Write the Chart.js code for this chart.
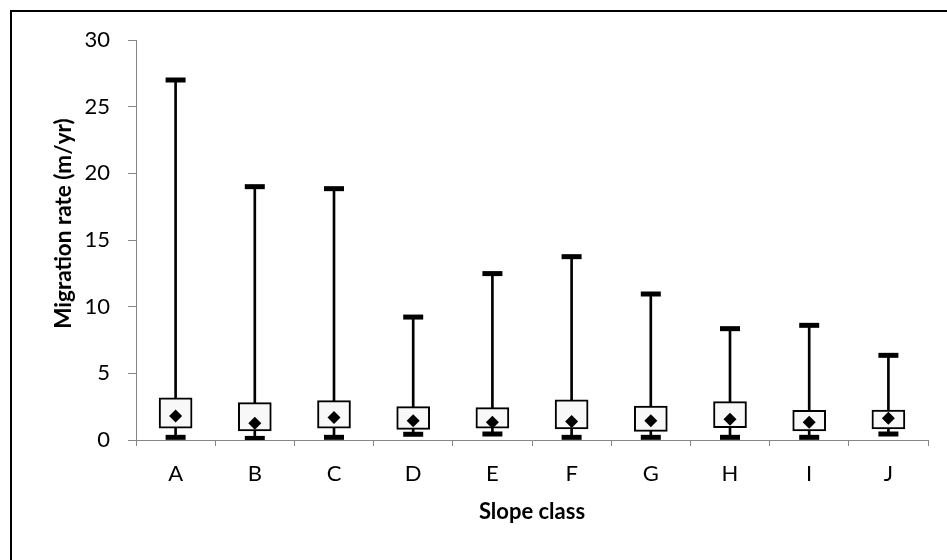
<!DOCTYPE html>
<html>
<head>
<meta charset="utf-8">
<script src="https://cdn.jsdelivr.net/npm/chart.js@4.4.0/dist/chart.umd.min.js"></script>
<style>
  html, body { margin: 0; padding: 0; background: #fff; overflow: hidden; }
  #frame { position: absolute; left: 10px; top: 10px; width: 1000px; height: 600px; border: 2px solid #000; }
  #wrap { position: absolute; left: 0; top: 0; width: 947px; height: 560px; }
</style>
</head>
<body>
<div id="frame"></div>
<div id="wrap"><canvas id="chart" width="947" height="560"></canvas></div>
<script>
// Datos
const categories = ['A', 'B', 'C', 'D', 'E', 'F', 'G', 'H', 'I', 'J'];
const maxValues = [27.0, 19.0, 18.85, 9.22, 12.48, 13.75, 10.95, 8.35, 8.6, 6.35];
const q3Values = [3.17, 2.8, 2.95, 2.5, 2.43, 3.02, 2.55, 2.88, 2.23, 2.25];
const meanValues = [1.8, 1.25, 1.68, 1.45, 1.33, 1.38, 1.45, 1.55, 1.33, 1.63];
const q1Values = [0.88, 0.68, 0.88, 0.8, 0.88, 0.83, 0.65, 0.93, 0.68, 0.83];
const minValues = [0.2, 0.12, 0.2, 0.43, 0.45, 0.2, 0.2, 0.2, 0.2, 0.45];
const yTicks = [0, 5, 10, 15, 20, 25, 30];

const axisColor = '#868686';
const fontFamily = 'Lato, "Open Sans", sans-serif';

const ctx = document.getElementById('chart').getContext('2d');
new Chart(ctx, {
    type: 'bar',
    data: {
        labels: categories,
        datasets: [
            {
                // Media
                type: 'line',
                data: meanValues,
                showLine: false,
                pointStyle: 'rectRot',
                pointRadius: 6.5,
                pointBackgroundColor: '#000',
                pointBorderColor: '#000',
                pointBorderWidth: 0,
                order: 0
            },
            {
                // Tope máximo
                type: 'line',
                data: maxValues,
                showLine: false,
                pointStyle: 'line',
                pointRadius: 10,
                pointBorderColor: '#000',
                pointBorderWidth: 5,
                order: 1
            },
            {
                // Tope mínimo
                type: 'line',
                data: minValues,
                showLine: false,
                pointStyle: 'line',
                pointRadius: 10,
                pointBorderColor: '#000',
                pointBorderWidth: 5,
                order: 1
            },
            {
                // Caja Q1-Q3
                data: q1Values.map((v, i) => [v, q3Values[i]]),
                backgroundColor: '#f8f8f8',
                borderColor: '#000',
                borderWidth: 2,
                borderSkipped: false,
                barThickness: 33,
                grouped: false,
                order: 2
            },
            {
                // Bigote min-max
                data: minValues.map((v, i) => [v, maxValues[i]]),
                backgroundColor: '#000',
                borderWidth: 0,
                barThickness: 2,
                grouped: false,
                order: 3
            }
        ]
    },
    options: {
        responsive: false,
        animation: false,
        layout: { padding: { top: 40, right: 19, left: 0, bottom: 0 } },
        plugins: {
            legend: { display: false },
            tooltip: { enabled: false }
        },
        scales: {
            x: {
                afterFit: (scale) => { scale.height = 120; },
                grid: {
                    offset: true,
                    drawOnChartArea: false,
                    drawTicks: true,
                    tickLength: 6,
                    color: axisColor
                },
                border: { display: true, color: axisColor, width: 1 },
                ticks: {
                    color: '#000',
                    padding: 15,
                    font: { family: fontFamily, size: 22 }
                },
                title: {
                    display: true,
                    text: 'Slope class',
                    color: '#000',
                    font: { family: fontFamily, size: 22, weight: 'bold' },
                    padding: { top: 0, bottom: 35 }
                }
            },
            y: {
                min: 0,
                max: 30,
                afterFit: (scale) => { scale.width = 136; },
                afterBuildTicks: (scale) => { scale.ticks = yTicks.map(v => ({ value: v })); },
                grid: {
                    drawOnChartArea: false,
                    drawTicks: true,
                    tickLength: 8,
                    color: axisColor
                },
                border: { display: true, color: axisColor, width: 1 },
                ticks: {
                    color: '#000',
                    padding: 18,
                    font: { family: fontFamily, size: 22 }
                },
                title: {
                    display: true,
                    text: '      Migration rate (m/yr)',
                    color: '#000',
                    font: { family: fontFamily, size: 22.5, weight: 'bold' },
                    padding: { top: 50, bottom: 0 }
                }
            }
        }
    }
});
</script>
</body>
</html>
